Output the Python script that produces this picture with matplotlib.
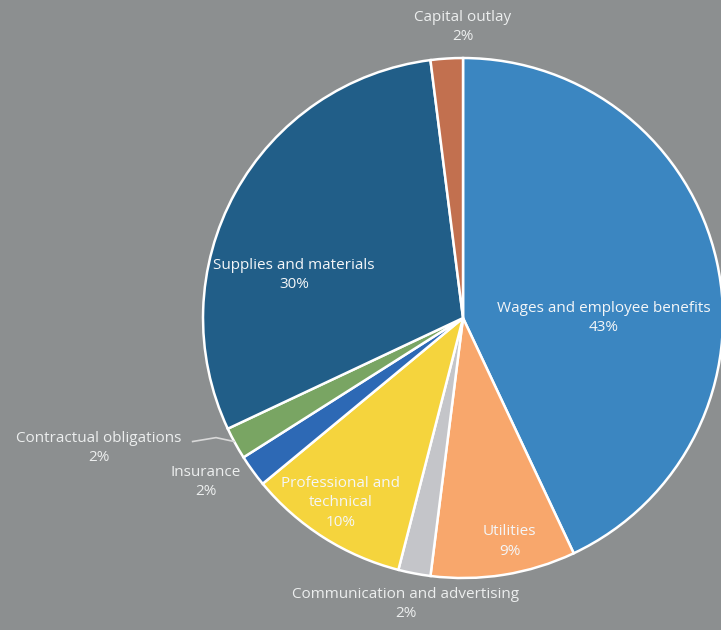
import matplotlib
matplotlib.use('Agg')
import matplotlib.pyplot as plt

plt.rcParams['font.family'] = ['Open Sans', 'DejaVu Sans']

# Expenditure shares, clockwise from 12 o'clock
categories = ['Wages and employee benefits', 'Utilities', 'Communication and advertising',
              'Professional and\ntechnical', 'Insurance', 'Contractual obligations',
              'Supplies and materials', 'Capital outlay']
shares = [43, 9, 2, 10, 2, 2, 30, 2]
colors = ['#3b86c1', '#f8a76c', '#c4c5c9', '#f5d43d', '#2d69b5', '#79a563',
          '#215e88', '#c2704f']

# label anchor points in pie radius units
label_pos = [(0.54, 0.0), (0.18, -0.86), (-0.22, -1.10), (-0.47, -0.71),
             (-0.99, -0.63), (-1.40, -0.50), (-0.65, 0.165), (0.0, 1.12)]
inside = [True, True, False, True, False, False, True, False]

bg = '#8c8f90'
fig = plt.figure(figsize=(7.21, 6.30), dpi=100, facecolor=bg)
ax = fig.add_axes([0.2816, 0.0825, 0.7212, 0.8254])
ax.set_facecolor(bg)

wedges, _ = ax.pie(shares, colors=colors, startangle=90, counterclock=False,
                   radius=1.0, center=(0, 0),
                   wedgeprops=dict(edgecolor='white', linewidth=1.8))
for w in wedges:
    w.set_clip_on(False)

# pie() resets the limits, so fix them afterwards
ax.set_xlim(-1, 1)
ax.set_ylim(-1, 1)
ax.axis('off')

for name, val, (x, y), inn in zip(categories, shares, label_pos, inside):
    col = '#f4f6f8' if inn else '#eceeee'
    ax.text(x, y, '%s\n%d%%' % (name, val), ha='center', va='center',
            fontsize=11, color=col, linespacing=1.4, clip_on=False)

# leader line for the contractual obligations slice
ax.plot([-1.04, -0.95, -0.88], [-0.475, -0.46, -0.475], color='#d8d8d8',
        lw=1.2, clip_on=False)

fig.savefig('out.png', dpi=100, facecolor=bg)
